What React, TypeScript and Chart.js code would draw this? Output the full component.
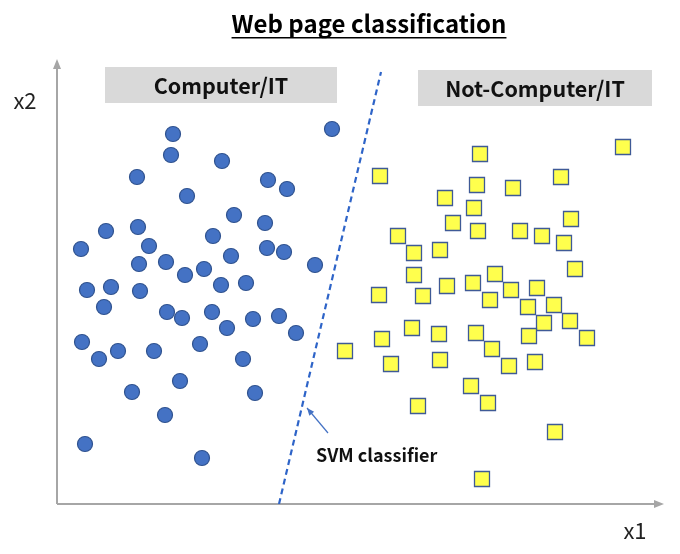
import React, { useEffect, useRef } from "react";
import { Chart, registerables } from "chart.js";

Chart.register(...registerables);

// Blue circles: Computer/IT pages (x1, x2)
const computerX = [275,116,114,165,80,211,230,130,177,208,49,81,24,92,156,174,210,227,258,82,109,128,147,164,189,30,54,83,47,110,125,155,170,196,222,239,25,42,61,97,143,186,123,75,198,108,28,145];
const computerY = [375,370,349,343,327,324,315,308,289,281,273,277,255,258,268,248,256,252,239,240,242,229,235,219,221,214,217,213,197,192,186,192,176,185,188,171,162,145,153,153,160,145,123,112,111,89,60,46];

// Yellow squares: Not-Computer/IT pages (x1, x2)
const notComputerX = [566,423,323,504,420,456,388,417,396,421,514,463,485,507,341,357,383,518,357,438,390,416,454,480,322,366,433,471,497,487,513,530,472,419,435,452,478,355,382,325,288,334,383,414,431,361,498,425];
const notComputerY = [357,350,328,327,319,316,306,296,281,273,285,273,268,261,268,251,254,235,229,230,218,221,214,216,209,208,204,197,199,181,183,166,168,171,155,138,142,176,170,165,153,140,144,118,101,98,72,25];

// SVM decision boundary end points
const svmX = [222, 324];
const svmY = [0, 432];

const titleText = "Web page classification";
const leftLabel = "Computer/IT";
const rightLabel = "Not-Computer/IT";
const svmLabel = "SVM classifier";
const xAxisLabel = "x1";
const yAxisLabel = "x2";

const FONT = "'Noto Sans CJK KR', 'Noto Sans', sans-serif";

const decorPlugin = {
  id: "decor",
  beforeDatasetsDraw(chart: any) {
    const { ctx, chartArea } = chart;
    const { left, right, top, bottom } = chartArea;
    ctx.save();
    ctx.strokeStyle = "#A6A6A6";
    ctx.fillStyle = "#A6A6A6";
    ctx.lineWidth = 2;
    // x axis
    ctx.beginPath();
    ctx.moveTo(left, bottom);
    ctx.lineTo(right - 8, bottom);
    ctx.stroke();
    ctx.beginPath();
    ctx.moveTo(right, bottom);
    ctx.lineTo(right - 10, bottom - 4);
    ctx.lineTo(right - 10, bottom + 4);
    ctx.closePath();
    ctx.fill();
    // y axis
    ctx.beginPath();
    ctx.moveTo(left, bottom);
    ctx.lineTo(left, top + 8);
    ctx.stroke();
    ctx.beginPath();
    ctx.moveTo(left, top);
    ctx.lineTo(left - 4, top + 10);
    ctx.lineTo(left + 4, top + 10);
    ctx.closePath();
    ctx.fill();
    ctx.restore();
  },
  afterDraw(chart: any) {
    const { ctx, scales } = chart;
    const xs = scales.x;
    const ys = scales.y;
    ctx.save();
    // title
    ctx.fillStyle = "#000";
    ctx.font = `bold 24px ${FONT}`;
    ctx.textAlign = "center";
    ctx.textBaseline = "alphabetic";
    ctx.fillText(titleText, 369, 33);
    const tw = ctx.measureText(titleText).width;
    ctx.fillRect(369 - tw / 2, 37, tw, 1.5);

    // category boxes
    ctx.fillStyle = "#D9D9D9";
    ctx.fillRect(105, 67, 232, 36);
    ctx.fillRect(418, 70, 234, 36);
    ctx.fillStyle = "#111";
    ctx.font = `bold 21.5px ${FONT}`;
    ctx.textBaseline = "middle";
    ctx.fillText(leftLabel, 221, 86);
    ctx.fillText(rightLabel, 535, 89);

    // axis labels
    ctx.font = `22px ${FONT}`;
    ctx.fillStyle = "#222";
    ctx.fillText(yAxisLabel, 25, 101);
    ctx.fillText(xAxisLabel, 635, 531);

    // SVM arrow
    const ax0 = xs.getPixelForValue(271), ay0 = ys.getPixelForValue(71);
    const ax1 = xs.getPixelForValue(250), ay1 = ys.getPixelForValue(96);
    ctx.strokeStyle = "#4472C4";
    ctx.fillStyle = "#4472C4";
    ctx.lineWidth = 1.2;
    ctx.beginPath();
    ctx.moveTo(ax0, ay0);
    ctx.lineTo(ax1, ay1);
    ctx.stroke();
    const ang = Math.atan2(ay1 - ay0, ax1 - ax0);
    ctx.beginPath();
    ctx.moveTo(ax1, ay1);
    ctx.lineTo(ax1 - 8 * Math.cos(ang - 0.4), ay1 - 8 * Math.sin(ang - 0.4));
    ctx.lineTo(ax1 - 8 * Math.cos(ang + 0.4), ay1 - 8 * Math.sin(ang + 0.4));
    ctx.closePath();
    ctx.fill();

    // SVM label
    ctx.fillStyle = "#111";
    ctx.font = `bold 18px ${FONT}`;
    ctx.textAlign = "left";
    ctx.textBaseline = "middle";
    ctx.fillText(svmLabel, xs.getPixelForValue(259), ys.getPixelForValue(49));
    ctx.restore();
  },
};

export default function App() {
  const ref = useRef<HTMLCanvasElement | null>(null);
  useEffect(() => {
    if (!ref.current) return;
    const chart = new Chart(ref.current, {
      type: "scatter",
      data: {
        datasets: [
          {
            type: "line",
            label: "SVM classifier",
            data: svmX.map((x, i) => ({ x, y: svmY[i] })),
            borderColor: "#2E64C8",
            borderWidth: 2.2,
            borderDash: [6, 4],
            pointRadius: 0,
            fill: false,
            order: 3,
          } as any,
          {
            label: leftLabel,
            data: computerX.map((x, i) => ({ x, y: computerY[i] })),
            backgroundColor: "#4472C4",
            borderColor: "#2F528F",
            borderWidth: 1.2,
            pointStyle: "circle",
            pointRadius: 7.5,
            order: 1,
          },
          {
            label: rightLabel,
            data: notComputerX.map((x, i) => ({ x, y: notComputerY[i] })),
            backgroundColor: "#FFFF4D",
            borderColor: "#3F5A96",
            borderWidth: 1.3,
            pointStyle: "rect",
            pointRadius: 10.6,
            order: 2,
          },
        ],
      },
      options: {
        animation: false,
        responsive: false,
        layout: { padding: { left: 57, top: 59, right: 16, bottom: 50 } },
        plugins: {
          legend: { display: false },
          title: { display: false },
          tooltip: { enabled: false },
        },
        scales: {
          x: { type: "linear", min: 0, max: 607, display: false },
          y: { type: "linear", min: 0, max: 445, display: false },
        },
      },
      plugins: [decorPlugin],
    });
    return () => chart.destroy();
  }, []);
  return (
    <div style={{ position: "absolute", left: 0, top: 0, width: 680, height: 554, background: "#fff" }}>
      <canvas ref={ref} width={680} height={554} />
    </div>
  );
}
